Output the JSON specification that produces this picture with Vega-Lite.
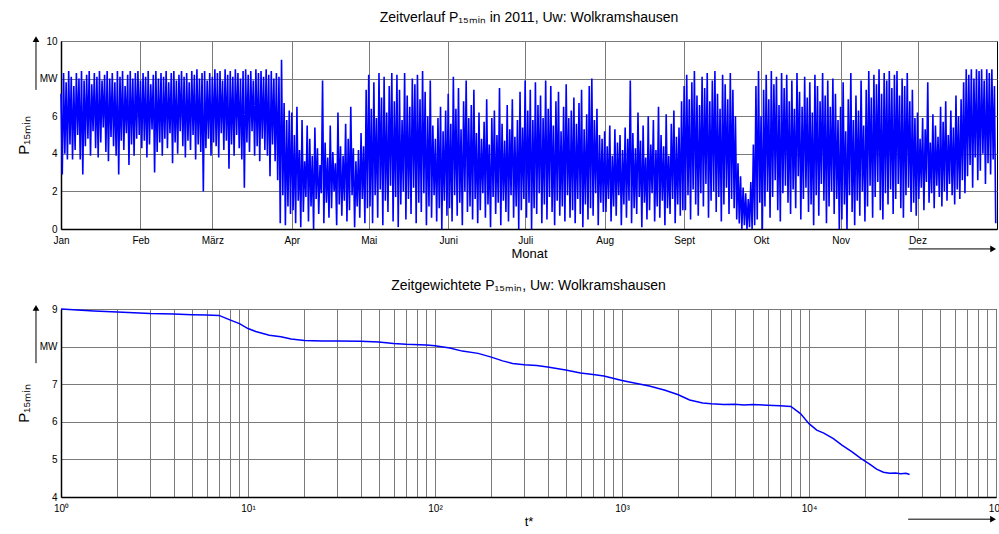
{
"$schema": "https://vega.github.io/schema/vega-lite/v6.json",
"background": "white",
"padding": {"left": 15, "top": 10, "right": 0, "bottom": 0},
"bounds": "flush",
"spacing": 80,
"config": {
  "font": "Liberation Sans",
  "view": {"stroke": "#000000", "strokeWidth": 1},
  "axis": {"labelFont": "Liberation Sans", "labelFontSize": 10, "labelColor": "#000000", "titleFont": "Liberation Sans", "titleFontWeight": "normal", "titleColor": "#000000", "domainColor": "#000000", "domainWidth": 1.5, "tickSize": 0, "gridColor": "#7a7a7a", "gridOpacity": 1, "gridWidth": 1, "labelPadding": 4, "labelOverlap": false, "labelFlush": false},
  "title": {"font": "Liberation Sans", "fontSize": 14, "fontWeight": "normal", "color": "#000000", "frame": "group", "anchor": "middle", "baseline": "bottom", "offset": 11}
},
"vconcat": [
{
  "width": 936, "height": 188,
  "title": {"text": "Zeitverlauf P₁₅ₘᵢₙ in 2011, Uw: Wolkramshausen"},
  "layer": [
  {
    "data": {"values": [
{"h":0,"p":7.2},{"h":1,"p":2.9},{"h":2,"p":8.3},{"h":3,"p":4.0},{"h":4,"p":7.8},{"h":5,"p":3.7},{"h":6,"p":8.4},{"h":7,"p":4.5},{"h":8,"p":8.1},{"h":9,"p":3.7},{"h":10,"p":7.6},{"h":11,"p":4.2},{"h":12,"p":8.3},{"h":13,"p":5.0},{"h":14,"p":8.0},{"h":15,"p":3.7},{"h":16,"p":8.4},{"h":17,"p":2.9},{"h":18,"p":7.9},{"h":19,"p":4.4},
{"h":20,"p":8.2},{"h":21,"p":4.8},{"h":22,"p":8.4},{"h":23,"p":3.9},{"h":24,"p":7.7},{"h":25,"p":5.2},{"h":26,"p":8.3},{"h":27,"p":4.3},{"h":28,"p":8.1},{"h":29,"p":3.8},{"h":30,"p":8.4},{"h":31,"p":4.6},{"h":32,"p":7.9},{"h":33,"p":5.4},{"h":34,"p":8.2},{"h":35,"p":4.1},{"h":36,"p":8.4},{"h":37,"p":3.6},{"h":38,"p":8.0},{"h":39,"p":4.9},
{"h":40,"p":8.3},{"h":41,"p":4.4},{"h":42,"p":7.8},{"h":43,"p":3.9},{"h":44,"p":8.4},{"h":45,"p":2.9},{"h":46,"p":8.1},{"h":47,"p":4.7},{"h":48,"p":8.4},{"h":49,"p":4.2},{"h":50,"p":7.6},{"h":51,"p":5.1},{"h":52,"p":8.2},{"h":53,"p":3.4},{"h":54,"p":8.4},{"h":55,"p":4.5},{"h":56,"p":8.0},{"h":57,"p":3.9},{"h":58,"p":8.3},{"h":59,"p":4.8},
{"h":60,"p":8.4},{"h":61,"p":5.0},{"h":62,"p":7.9},{"h":63,"p":4.3},{"h":64,"p":8.3},{"h":65,"p":4.7},{"h":66,"p":8.1},{"h":67,"p":3.8},{"h":68,"p":8.4},{"h":69,"p":4.5},{"h":70,"p":7.7},{"h":71,"p":5.3},{"h":72,"p":8.2},{"h":73,"p":3.0},{"h":74,"p":8.4},{"h":75,"p":4.1},{"h":76,"p":8.0},{"h":77,"p":4.6},{"h":78,"p":8.3},{"h":79,"p":3.9},
{"h":80,"p":8.1},{"h":81,"p":4.8},{"h":82,"p":8.4},{"h":83,"p":4.3},{"h":84,"p":7.8},{"h":85,"p":5.1},{"h":86,"p":8.3},{"h":87,"p":3.5},{"h":88,"p":8.4},{"h":89,"p":4.6},{"h":90,"p":7.9},{"h":91,"p":4.0},{"h":92,"p":8.2},{"h":93,"p":5.2},{"h":94,"p":8.4},{"h":95,"p":4.4},{"h":96,"p":8.1},{"h":97,"p":3.8},{"h":98,"p":8.3},{"h":99,"p":4.7},
{"h":100,"p":7.8},{"h":101,"p":4.2},{"h":102,"p":8.4},{"h":103,"p":5.0},{"h":104,"p":8.2},{"h":105,"p":3.7},{"h":106,"p":8.5},{"h":107,"p":4.5},{"h":108,"p":8.0},{"h":109,"p":4.1},{"h":110,"p":8.3},{"h":111,"p":2.0},{"h":112,"p":8.4},{"h":113,"p":4.3},{"h":114,"p":7.9},{"h":115,"p":4.8},{"h":116,"p":8.3},{"h":117,"p":3.9},{"h":118,"p":8.1},{"h":119,"p":4.6},
{"h":120,"p":8.5},{"h":121,"p":4.4},{"h":122,"p":8.3},{"h":123,"p":3.8},{"h":124,"p":8.4},{"h":125,"p":5.1},{"h":126,"p":7.9},{"h":127,"p":4.2},{"h":128,"p":8.5},{"h":129,"p":4.7},{"h":130,"p":8.2},{"h":131,"p":3.2},{"h":132,"p":8.4},{"h":133,"p":4.5},{"h":134,"p":8.1},{"h":135,"p":3.9},{"h":136,"p":8.5},{"h":137,"p":5.0},{"h":138,"p":8.3},{"h":139,"p":4.3},
{"h":140,"p":8.0},{"h":141,"p":3.7},{"h":142,"p":8.4},{"h":143,"p":2.2},{"h":144,"p":8.5},{"h":145,"p":4.6},{"h":146,"p":8.2},{"h":147,"p":4.1},{"h":148,"p":8.4},{"h":149,"p":5.2},{"h":150,"p":7.9},{"h":151,"p":3.9},{"h":152,"p":8.5},{"h":153,"p":4.4},{"h":154,"p":8.3},{"h":155,"p":3.6},{"h":156,"p":8.4},{"h":157,"p":4.8},{"h":158,"p":8.1},{"h":159,"p":4.2},
{"h":160,"p":8.5},{"h":161,"p":3.9},{"h":162,"p":8.2},{"h":163,"p":2.8},{"h":164,"p":8.4},{"h":165,"p":4.5},{"h":166,"p":8.0},{"h":167,"p":3.6},{"h":168,"p":8.3},{"h":169,"p":2.6},{"h":170,"p":8.1},{"h":171,"p":0.3},{"h":172,"p":9.0},{"h":173,"p":1.8},{"h":174,"p":6.7},{"h":175,"p":0.2},{"h":176,"p":5.8},{"h":177,"p":1.2},{"h":178,"p":6.3},{"h":179,"p":0.8},
{"h":180,"p":6.2},{"h":181,"p":1.0},{"h":182,"p":5.0},{"h":183,"p":0.3},{"h":184,"p":6.5},{"h":185,"p":1.5},{"h":186,"p":4.2},{"h":187,"p":0.1},{"h":188,"p":5.8},{"h":189,"p":0.9},{"h":190,"p":3.6},{"h":191,"p":1.7},{"h":192,"p":5.5},{"h":193,"p":0.4},{"h":194,"p":4.8},{"h":195,"p":1.2},{"h":196,"p":3.9},{"h":197,"p":0.0},{"h":198,"p":5.4},{"h":199,"p":1.6},
{"h":200,"p":4.3},{"h":201,"p":0.8},{"h":202,"p":3.4},{"h":203,"p":1.9},{"h":204,"p":7.9},{"h":205,"p":0.3},{"h":206,"p":4.6},{"h":207,"p":1.4},{"h":208,"p":3.8},{"h":209,"p":0.6},{"h":210,"p":5.5},{"h":211,"p":1.1},{"h":212,"p":4.1},{"h":213,"p":2.0},{"h":214,"p":3.5},{"h":215,"p":0.2},{"h":216,"p":6.2},{"h":217,"p":1.3},{"h":218,"p":4.4},{"h":219,"p":0.7},
{"h":220,"p":3.9},{"h":221,"p":1.5},{"h":222,"p":5.6},{"h":223,"p":0.4},{"h":224,"p":4.8},{"h":225,"p":1.0},{"h":226,"p":6.5},{"h":227,"p":1.8},{"h":228,"p":4.3},{"h":229,"p":0.1},{"h":230,"p":3.6},{"h":231,"p":1.2},{"h":232,"p":4.2},{"h":233,"p":0.6},{"h":234,"p":5.1},{"h":235,"p":1.6},{"h":236,"p":4.4},{"h":237,"p":0.3},{"h":238,"p":7.4},{"h":239,"p":1.1},
{"h":240,"p":8.2},{"h":241,"p":1.2},{"h":242,"p":6.4},{"h":243,"p":0.3},{"h":244,"p":7.8},{"h":245,"p":1.8},{"h":246,"p":5.9},{"h":247,"p":0.6},{"h":248,"p":8.3},{"h":249,"p":2.1},{"h":250,"p":7.0},{"h":251,"p":0.2},{"h":252,"p":8.1},{"h":253,"p":1.5},{"h":254,"p":6.2},{"h":255,"p":0.9},{"h":256,"p":7.6},{"h":257,"p":2.3},{"h":258,"p":8.3},{"h":259,"p":0.4},
{"h":260,"p":6.8},{"h":261,"p":1.7},{"h":262,"p":8.2},{"h":263,"p":0.1},{"h":264,"p":7.4},{"h":265,"p":1.3},{"h":266,"p":5.8},{"h":267,"p":2.0},{"h":268,"p":8.3},{"h":269,"p":0.5},{"h":270,"p":7.1},{"h":271,"p":1.6},{"h":272,"p":6.5},{"h":273,"p":0.8},{"h":274,"p":8.0},{"h":275,"p":2.2},{"h":276,"p":7.7},{"h":277,"p":0.3},{"h":278,"p":8.2},{"h":279,"p":1.4},
{"h":280,"p":6.9},{"h":281,"p":0.9},{"h":282,"p":8.4},{"h":283,"p":1.9},{"h":284,"p":7.3},{"h":285,"p":0.2},{"h":286,"p":6.0},{"h":287,"p":1.2},{"h":288,"p":7.9},{"h":289,"p":0.6},{"h":290,"p":5.5},{"h":291,"p":1.8},{"h":292,"p":4.8},{"h":293,"p":0.4},{"h":294,"p":5.9},{"h":295,"p":1.1},{"h":296,"p":6.5},{"h":297,"p":0.0},{"h":298,"p":5.2},{"h":299,"p":1.5},
{"h":300,"p":6.3},{"h":301,"p":0.7},{"h":302,"p":7.2},{"h":303,"p":1.1},{"h":304,"p":5.6},{"h":305,"p":0.4},{"h":306,"p":8.1},{"h":307,"p":1.8},{"h":308,"p":6.4},{"h":309,"p":0.7},{"h":310,"p":7.5},{"h":311,"p":1.4},{"h":312,"p":5.3},{"h":313,"p":0.2},{"h":314,"p":6.8},{"h":315,"p":2.0},{"h":316,"p":7.9},{"h":317,"p":0.9},{"h":318,"p":5.9},{"h":319,"p":1.2},
{"h":320,"p":6.6},{"h":321,"p":0.5},{"h":322,"p":7.4},{"h":323,"p":1.6},{"h":324,"p":5.1},{"h":325,"p":0.3},{"h":326,"p":6.2},{"h":327,"p":1.0},{"h":328,"p":4.8},{"h":329,"p":1.9},{"h":330,"p":5.7},{"h":331,"p":0.6},{"h":332,"p":6.9},{"h":333,"p":1.3},{"h":334,"p":4.5},{"h":335,"p":0.1},{"h":336,"p":5.9},{"h":337,"p":1.7},{"h":338,"p":6.3},{"h":339,"p":0.8},
{"h":340,"p":5.0},{"h":341,"p":1.4},{"h":342,"p":7.5},{"h":343,"p":0.2},{"h":344,"p":5.6},{"h":345,"p":1.5},{"h":346,"p":4.7},{"h":347,"p":0.9},{"h":348,"p":6.6},{"h":349,"p":0.4},{"h":350,"p":5.3},{"h":351,"p":1.8},{"h":352,"p":6.9},{"h":353,"p":0.6},{"h":354,"p":4.9},{"h":355,"p":1.2},{"h":356,"p":5.8},{"h":357,"p":0.0},{"h":358,"p":7.3},{"h":359,"p":1.0},
{"h":360,"p":5.4},{"h":361,"p":1.6},{"h":362,"p":7.9},{"h":363,"p":0.6},{"h":364,"p":6.3},{"h":365,"p":1.4},{"h":366,"p":7.4},{"h":367,"p":0.0},{"h":368,"p":5.8},{"h":369,"p":1.1},{"h":370,"p":7.8},{"h":371,"p":0.8},{"h":372,"p":6.6},{"h":373,"p":1.9},{"h":374,"p":7.1},{"h":375,"p":0.3},{"h":376,"p":5.9},{"h":377,"p":1.3},{"h":378,"p":7.9},{"h":379,"p":0.5},
{"h":380,"p":6.4},{"h":381,"p":1.7},{"h":382,"p":7.6},{"h":383,"p":0.9},{"h":384,"p":5.5},{"h":385,"p":0.2},{"h":386,"p":6.8},{"h":387,"p":1.5},{"h":388,"p":7.3},{"h":389,"p":0.7},{"h":390,"p":5.2},{"h":391,"p":1.2},{"h":392,"p":6.5},{"h":393,"p":0.4},{"h":394,"p":7.7},{"h":395,"p":1.8},{"h":396,"p":5.9},{"h":397,"p":0.6},{"h":398,"p":6.3},{"h":399,"p":1.0},
{"h":400,"p":7.0},{"h":401,"p":0.3},{"h":402,"p":5.6},{"h":403,"p":1.6},{"h":404,"p":6.7},{"h":405,"p":0.8},{"h":406,"p":7.4},{"h":407,"p":0.1},{"h":408,"p":5.3},{"h":409,"p":1.3},{"h":410,"p":6.1},{"h":411,"p":0.5},{"h":412,"p":7.6},{"h":413,"p":1.1},{"h":414,"p":8.0},{"h":415,"p":0.7},{"h":416,"p":5.8},{"h":417,"p":1.9},{"h":418,"p":6.4},{"h":419,"p":0.2},
{"h":420,"p":5.0},{"h":421,"p":1.4},{"h":422,"p":4.8},{"h":423,"p":0.9},{"h":424,"p":5.2},{"h":425,"p":0.9},{"h":426,"p":4.4},{"h":427,"p":1.6},{"h":428,"p":5.5},{"h":429,"p":0.4},{"h":430,"p":3.9},{"h":431,"p":1.2},{"h":432,"p":5.3},{"h":433,"p":0.7},{"h":434,"p":4.6},{"h":435,"p":1.8},{"h":436,"p":5.0},{"h":437,"p":0.2},{"h":438,"p":4.2},{"h":439,"p":1.3},
{"h":440,"p":5.4},{"h":441,"p":0.6},{"h":442,"p":4.8},{"h":443,"p":1.5},{"h":444,"p":7.9},{"h":445,"p":0.3},{"h":446,"p":5.1},{"h":447,"p":1.1},{"h":448,"p":4.3},{"h":449,"p":0.8},{"h":450,"p":6.2},{"h":451,"p":1.7},{"h":452,"p":4.7},{"h":453,"p":0.1},{"h":454,"p":5.5},{"h":455,"p":1.4},{"h":456,"p":3.8},{"h":457,"p":0.5},{"h":458,"p":6.0},{"h":459,"p":1.0},
{"h":460,"p":4.5},{"h":461,"p":1.9},{"h":462,"p":5.8},{"h":463,"p":0.4},{"h":464,"p":4.2},{"h":465,"p":1.2},{"h":466,"p":6.5},{"h":467,"p":0.6},{"h":468,"p":5.0},{"h":469,"p":1.5},{"h":470,"p":4.4},{"h":471,"p":0.2},{"h":472,"p":6.1},{"h":473,"p":1.1},{"h":474,"p":3.9},{"h":475,"p":0.8},{"h":476,"p":5.6},{"h":477,"p":1.6},{"h":478,"p":6.3},{"h":479,"p":0.3},
{"h":480,"p":4.9},{"h":481,"p":1.3},{"h":482,"p":5.4},{"h":483,"p":0.7},{"h":484,"p":6.8},{"h":485,"p":1.0},{"h":486,"p":7.6},{"h":487,"p":1.0},{"h":488,"p":8.2},{"h":489,"p":1.8},{"h":490,"p":6.9},{"h":491,"p":0.5},{"h":492,"p":7.8},{"h":493,"p":2.1},{"h":494,"p":8.4},{"h":495,"p":1.3},{"h":496,"p":7.1},{"h":497,"p":0.7},{"h":498,"p":6.6},{"h":499,"p":1.9},
{"h":500,"p":8.1},{"h":501,"p":1.2},{"h":502,"p":7.5},{"h":503,"p":2.4},{"h":504,"p":8.3},{"h":505,"p":0.6},{"h":506,"p":6.8},{"h":507,"p":1.5},{"h":508,"p":7.9},{"h":509,"p":2.0},{"h":510,"p":8.4},{"h":511,"p":0.9},{"h":512,"p":7.2},{"h":513,"p":1.7},{"h":514,"p":6.4},{"h":515,"p":0.4},{"h":516,"p":8.2},{"h":517,"p":1.3},{"h":518,"p":7.7},{"h":519,"p":2.2},
{"h":520,"p":6.9},{"h":521,"p":0.8},{"h":522,"p":8.3},{"h":523,"p":1.6},{"h":524,"p":7.4},{"h":525,"p":1.1},{"h":526,"p":6.0},{"h":527,"p":0.5},{"h":528,"p":3.5},{"h":529,"p":0.3},{"h":530,"p":2.8},{"h":531,"p":0.0},{"h":532,"p":2.2},{"h":533,"p":0.2},{"h":534,"p":1.9},{"h":535,"p":0.0},{"h":536,"p":1.6},{"h":537,"p":0.1},{"h":538,"p":2.5},{"h":539,"p":0.0},
{"h":540,"p":4.5},{"h":541,"p":0.2},{"h":542,"p":7.6},{"h":543,"p":0.5},{"h":544,"p":8.4},{"h":545,"p":1.4},{"h":546,"p":6.0},{"h":547,"p":0.0},{"h":548,"p":7.4},{"h":549,"p":1.2},{"h":550,"p":8.2},{"h":551,"p":2.0},{"h":552,"p":6.9},{"h":553,"p":0.6},{"h":554,"p":8.4},{"h":555,"p":1.7},{"h":556,"p":7.7},{"h":557,"p":2.6},{"h":558,"p":8.1},{"h":559,"p":1.0},
{"h":560,"p":6.6},{"h":561,"p":0.4},{"h":562,"p":8.3},{"h":563,"p":1.9},{"h":564,"p":7.5},{"h":565,"p":2.3},{"h":566,"p":8.2},{"h":567,"p":1.4},{"h":568,"p":6.8},{"h":569,"p":0.8},{"h":570,"p":7.9},{"h":571,"p":2.1},{"h":572,"p":6.4},{"h":573,"p":1.1},{"h":574,"p":8.3},{"h":575,"p":2.8},{"h":576,"p":7.3},{"h":577,"p":0.5},{"h":578,"p":6.5},{"h":579,"p":1.6},
{"h":580,"p":8.1},{"h":581,"p":2.2},{"h":582,"p":7.0},{"h":583,"p":0.9},{"h":584,"p":7.8},{"h":585,"p":1.3},{"h":586,"p":6.2},{"h":587,"p":0.2},{"h":588,"p":8.2},{"h":589,"p":1.8},{"h":590,"p":7.6},{"h":591,"p":0.7},{"h":592,"p":6.8},{"h":593,"p":2.4},{"h":594,"p":8.3},{"h":595,"p":1.5},{"h":596,"p":7.1},{"h":597,"p":0.3},{"h":598,"p":7.9},{"h":599,"p":1.2},
{"h":600,"p":6.5},{"h":601,"p":2.0},{"h":602,"p":8.0},{"h":603,"p":0.8},{"h":604,"p":7.2},{"h":605,"p":1.6},{"h":606,"p":5.8},{"h":607,"p":0.0},{"h":608,"p":6.5},{"h":609,"p":0.5},{"h":610,"p":7.8},{"h":611,"p":1.3},{"h":612,"p":5.2},{"h":613,"p":0.0},{"h":614,"p":6.9},{"h":615,"p":1.8},{"h":616,"p":8.3},{"h":617,"p":0.9},{"h":618,"p":5.8},{"h":619,"p":0.2},
{"h":620,"p":7.1},{"h":621,"p":1.5},{"h":622,"p":6.3},{"h":623,"p":0.7},{"h":624,"p":7.9},{"h":625,"p":2.0},{"h":626,"p":5.5},{"h":627,"p":0.4},{"h":628,"p":7.4},{"h":629,"p":1.2},{"h":630,"p":8.4},{"h":631,"p":2.3},{"h":632,"p":7.0},{"h":633,"p":0.6},{"h":634,"p":8.2},{"h":635,"p":1.7},{"h":636,"p":7.7},{"h":637,"p":2.5},{"h":638,"p":8.5},{"h":639,"p":1.0},
{"h":640,"p":7.2},{"h":641,"p":0.5},{"h":642,"p":8.3},{"h":643,"p":1.9},{"h":644,"p":7.9},{"h":645,"p":1.3},{"h":646,"p":8.4},{"h":647,"p":2.1},{"h":648,"p":7.5},{"h":649,"p":0.8},{"h":650,"p":8.2},{"h":651,"p":1.6},{"h":652,"p":8.4},{"h":653,"p":2.4},{"h":654,"p":7.1},{"h":655,"p":1.1},{"h":656,"p":8.0},{"h":657,"p":0.6},{"h":658,"p":7.6},{"h":659,"p":1.8},
{"h":660,"p":8.3},{"h":661,"p":2.2},{"h":662,"p":6.8},{"h":663,"p":0.9},{"h":664,"p":7.4},{"h":665,"p":1.4},{"h":666,"p":5.9},{"h":667,"p":0.7},{"h":668,"p":6.2},{"h":669,"p":1.6},{"h":670,"p":4.8},{"h":671,"p":2.2},{"h":672,"p":5.9},{"h":673,"p":1.0},{"h":674,"p":5.3},{"h":675,"p":2.5},{"h":676,"p":7.8},{"h":677,"p":1.4},{"h":678,"p":4.6},{"h":679,"p":1.9},
{"h":680,"p":6.1},{"h":681,"p":1.1},{"h":682,"p":5.5},{"h":683,"p":2.3},{"h":684,"p":4.9},{"h":685,"p":1.7},{"h":686,"p":6.5},{"h":687,"p":1.2},{"h":688,"p":5.7},{"h":689,"p":2.0},{"h":690,"p":6.8},{"h":691,"p":1.5},{"h":692,"p":5.0},{"h":693,"p":2.4},{"h":694,"p":6.3},{"h":695,"p":1.8},{"h":696,"p":5.4},{"h":697,"p":1.3},{"h":698,"p":7.1},{"h":699,"p":2.1},
{"h":700,"p":6.0},{"h":701,"p":1.6},{"h":702,"p":6.9},{"h":703,"p":2.6},{"h":704,"p":7.8},{"h":705,"p":1.9},{"h":706,"p":8.5},{"h":707,"p":2.8},{"h":708,"p":8.2},{"h":709,"p":3.4},{"h":710,"p":8.5},{"h":711,"p":2.2},{"h":712,"p":8.0},{"h":713,"p":3.8},{"h":714,"p":8.5},{"h":715,"p":2.6},{"h":716,"p":8.4},{"h":717,"p":3.1},{"h":718,"p":8.5},{"h":719,"p":4.0},
{"h":720,"p":7.9},{"h":721,"p":2.4},{"h":722,"p":8.5},{"h":723,"p":3.5},{"h":724,"p":8.3},{"h":725,"p":2.9},{"h":726,"p":8.5},{"h":727,"p":3.7},{"h":728,"p":7.6},{"h":729,"p":0.3}
    ]},
    "mark": {"type": "line", "color": "#0000ff", "strokeWidth": 1.6},
    "encoding": {
      "x": {"field": "h", "type": "quantitative", "scale": {"domain": [0, 730], "nice": false, "zero": false},
        "axis": {"title": "Monat", "titleFontSize": 13, "titlePadding": 2, "labelPadding": 6, "labelOverlap": false, "tickCount": 50, "grid": true,
          "values": [0,62,118,180,240,302,362,424,486,546,608,668],
          "labelExpr": "['Jan','Feb','März','Apr','Mai','Juni','Juli','Aug','Sept','Okt','Nov','Dez'][indexof([0,62,118,180,240,302,362,424,486,546,608,668], datum.value)]"}},
      "y": {"field": "p", "type": "quantitative", "scale": {"domain": [0, 10], "nice": false},
        "axis": {"title": "P₁₅ₘᵢₙ", "titleFontSize": 15, "titlePadding": 8, "labelOverlap": false, "tickCount": 50, "grid": true, "values": [0,2,4,6,8,10],
          "labelExpr": "datum.value == 8 ? 'MW' : format(datum.value, 'd')"}}
    }
  },
  {
    "data": {"values": [{}]},
    "mark": {"type": "rule", "color": "#000000", "strokeWidth": 1, "clip": false},
    "encoding": {"x": {"datum": -19.5, "type": "quantitative"}, "y": {"datum": 7.4, "type": "quantitative"}, "y2": {"datum": 10.1}}
  },
  {
    "data": {"values": [{}]},
    "mark": {"type": "point", "shape": "triangle-up", "filled": true, "color": "#000000", "opacity": 1, "size": 45, "clip": false},
    "encoding": {"x": {"datum": -19.5, "type": "quantitative"}, "y": {"datum": 10.1, "type": "quantitative"}}
  },
  {
    "data": {"values": [{}]},
    "mark": {"type": "rule", "color": "#000000", "strokeWidth": 1, "clip": false},
    "encoding": {"x": {"datum": 661, "type": "quantitative"}, "x2": {"datum": 727}, "y": {"datum": -1.06, "type": "quantitative"}}
  },
  {
    "data": {"values": [{}]},
    "mark": {"type": "point", "shape": "triangle-right", "filled": true, "color": "#000000", "opacity": 1, "size": 45, "clip": false},
    "encoding": {"x": {"datum": 727, "type": "quantitative"}, "y": {"datum": -1.06, "type": "quantitative"}}
  }
  ]
},
{
  "width": 935, "height": 188,
  "title": {"text": "Zeitgewichtete P₁₅ₘᵢₙ, Uw: Wolkramshausen"},
  "layer": [
  {
    "data": {"values": [
{"t":1,"p":9.0},{"t":1.5,"p":8.95},{"t":2,"p":8.92},{"t":3,"p":8.88},{"t":4,"p":8.87},{"t":5,"p":8.85},{"t":6,"p":8.84},{"t":7,"p":8.83},{"t":8,"p":8.71},{"t":9,"p":8.61},{"t":10,"p":8.48},{"t":11,"p":8.4},{"t":13,"p":8.3},{"t":15,"p":8.26},{"t":17,"p":8.2},{"t":20,"p":8.16},{"t":25,"p":8.15},{"t":30,"p":8.15},{"t":40,"p":8.14},{"t":50,"p":8.12},{"t":60,"p":8.08},{"t":70,"p":8.06},{"t":90,"p":8.04},{"t":100,"p":8.02},{"t":120,"p":7.96},{"t":140,"p":7.88},{"t":170,"p":7.82},{"t":200,"p":7.72},{"t":230,"p":7.62},{"t":260,"p":7.55},{"t":300,"p":7.52},{"t":350,"p":7.5},{"t":400,"p":7.46},{"t":500,"p":7.38},{"t":600,"p":7.3},{"t":700,"p":7.26},{"t":800,"p":7.22},{"t":1000,"p":7.1},{"t":1200,"p":7.02},{"t":1400,"p":6.95},{"t":1700,"p":6.84},{"t":2000,"p":6.72},{"t":2300,"p":6.58},{"t":2700,"p":6.5},{"t":3000,"p":6.48},{"t":3500,"p":6.46},{"t":4000,"p":6.47},{"t":4500,"p":6.45},{"t":5000,"p":6.46},{"t":6000,"p":6.44},{"t":7000,"p":6.43},{"t":8000,"p":6.41},{"t":9000,"p":6.22},{"t":10000,"p":5.95},{"t":11000,"p":5.78},{"t":12000,"p":5.7},{"t":13500,"p":5.55},{"t":15000,"p":5.38},{"t":17000,"p":5.2},{"t":19000,"p":5.02},{"t":21000,"p":4.88},{"t":23000,"p":4.74},{"t":25000,"p":4.66},{"t":27000,"p":4.63},{"t":29000,"p":4.64},{"t":31000,"p":4.62},{"t":33000,"p":4.63},{"t":34500,"p":4.6}
    ]},
    "mark": {"type": "line", "color": "#0000ff", "strokeWidth": 1.5},
    "encoding": {
      "x": {"field": "t", "type": "quantitative", "scale": {"type": "log", "domain": [1, 100000], "nice": false},
        "axis": {"title": "t*", "titleFontSize": 13, "titlePadding": 2, "labelPadding": 6, "labelOverlap": false, "tickCount": 200, "grid": true,
          "values": [1,2,3,4,5,6,7,8,9,10,20,30,40,50,60,70,80,90,100,200,300,400,500,600,700,800,900,1000,2000,3000,4000,5000,6000,7000,8000,9000,10000,20000,30000,40000,50000,60000,70000,80000,90000,100000],
          "labelExpr": "datum.value == 1 ? '10⁰' : datum.value == 10 ? '10¹' : datum.value == 100 ? '10²' : datum.value == 1000 ? '10³' : datum.value == 10000 ? '10⁴' : datum.value == 100000 ? '10⁵' : ''"}},
      "y": {"field": "p", "type": "quantitative", "scale": {"domain": [4, 9], "nice": false, "zero": false},
        "axis": {"title": "P₁₅ₘᵢₙ", "titleFontSize": 15, "titlePadding": 8, "labelOverlap": false, "tickCount": 50, "grid": true, "values": [4,5,6,7,8,9],
          "labelExpr": "datum.value == 8 ? 'MW' : format(datum.value, 'd')"}}
    }
  },
  {
    "data": {"values": [{}]},
    "mark": {"type": "rule", "color": "#000000", "strokeWidth": 1, "clip": false},
    "encoding": {"x": {"datum": 0.735, "type": "quantitative"}, "y": {"datum": 7.56, "type": "quantitative"}, "y2": {"datum": 9.03}}
  },
  {
    "data": {"values": [{}]},
    "mark": {"type": "point", "shape": "triangle-up", "filled": true, "color": "#000000", "opacity": 1, "size": 45, "clip": false},
    "encoding": {"x": {"datum": 0.735, "type": "quantitative"}, "y": {"datum": 9.03, "type": "quantitative"}}
  },
  {
    "data": {"values": [{}]},
    "mark": {"type": "rule", "color": "#000000", "strokeWidth": 1, "clip": false},
    "encoding": {"x": {"datum": 33900, "type": "quantitative"}, "x2": {"datum": 96400}, "y": {"datum": 3.41, "type": "quantitative"}}
  },
  {
    "data": {"values": [{}]},
    "mark": {"type": "point", "shape": "triangle-right", "filled": true, "color": "#000000", "opacity": 1, "size": 45, "clip": false},
    "encoding": {"x": {"datum": 96400, "type": "quantitative"}, "y": {"datum": 3.41, "type": "quantitative"}}
  }
  ]
}
]
}
